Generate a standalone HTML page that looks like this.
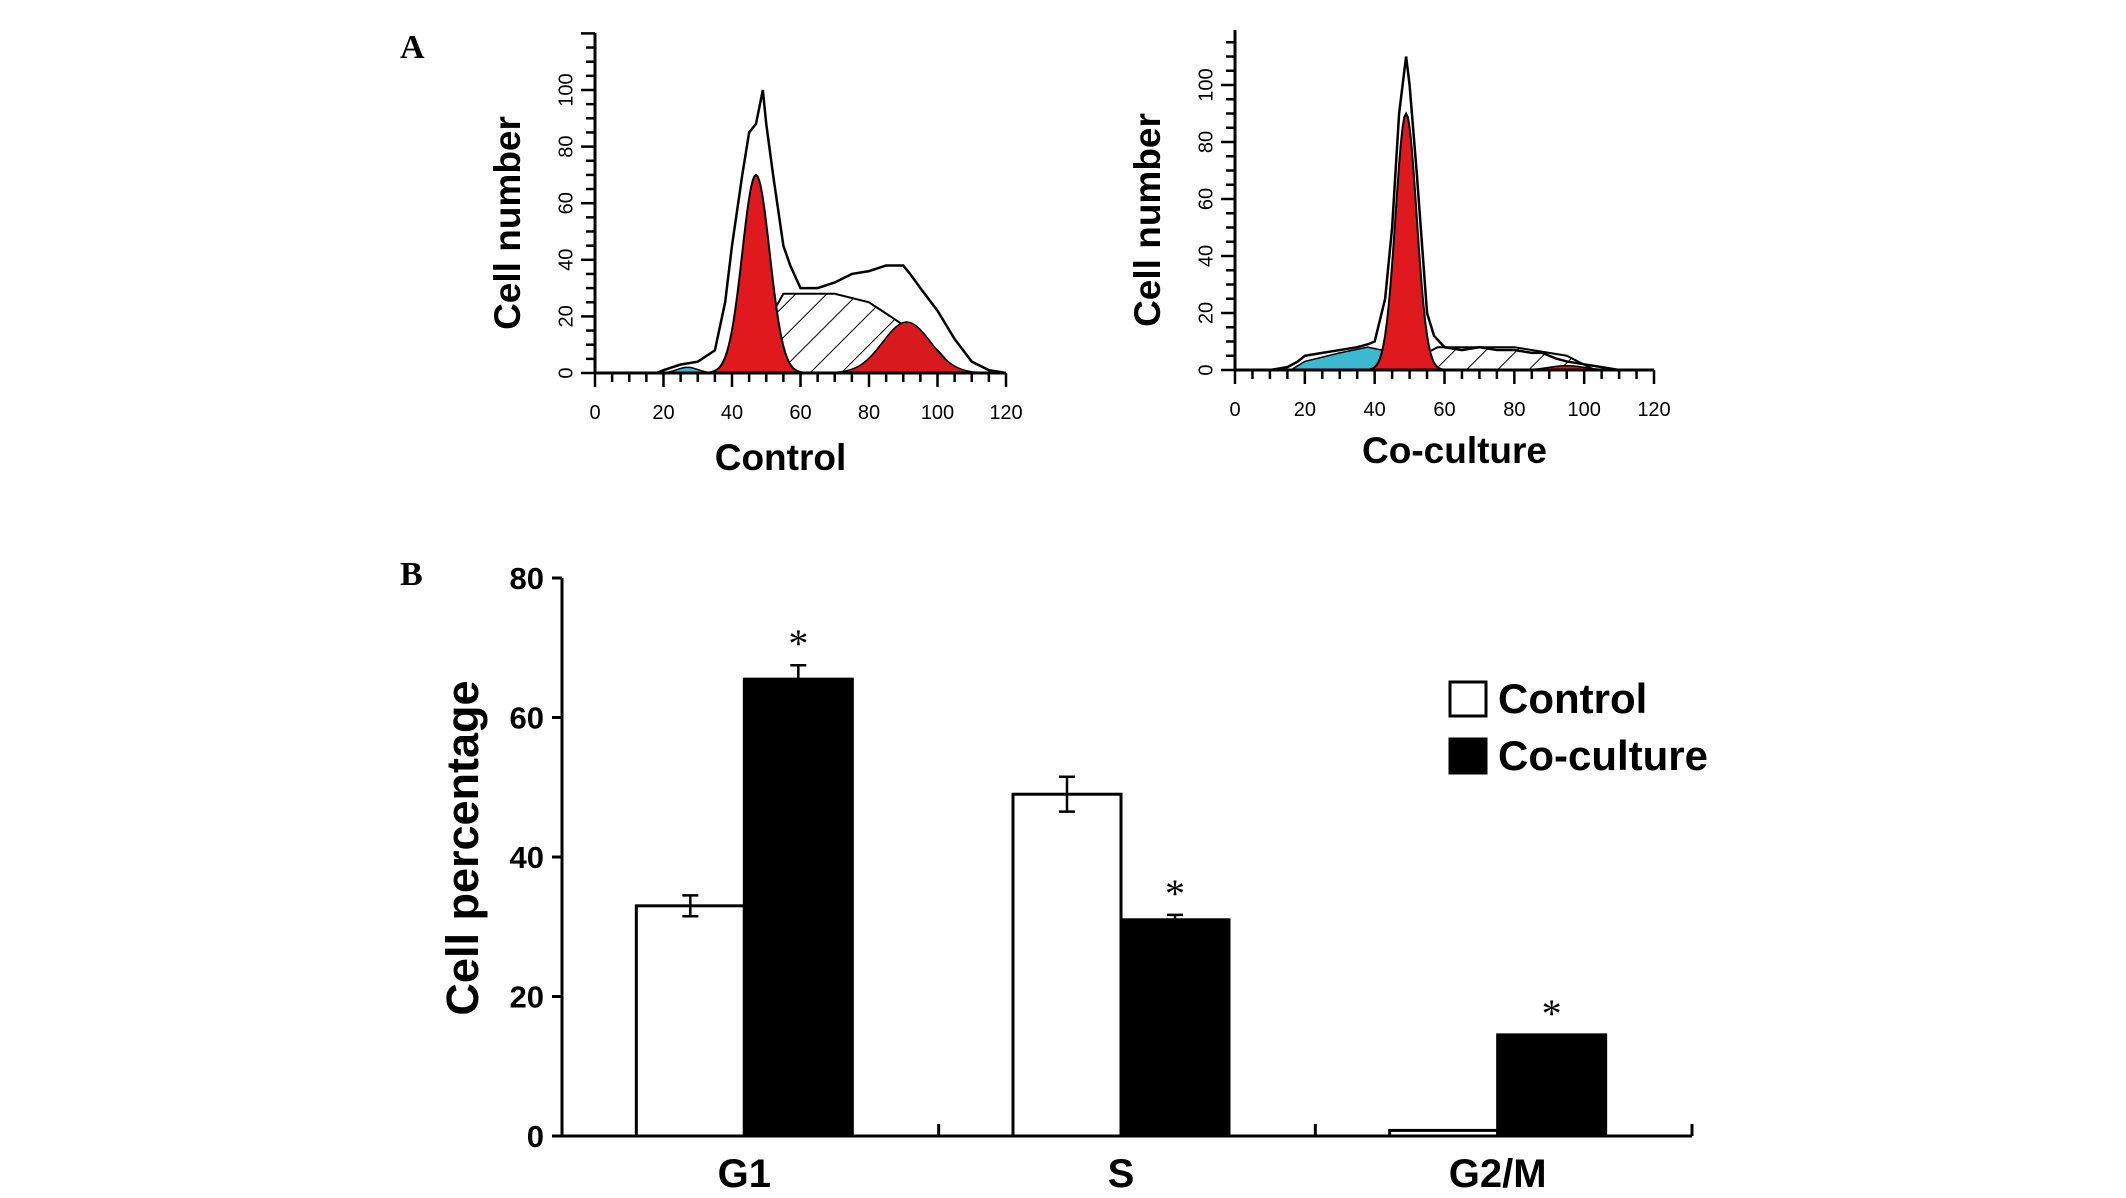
<!DOCTYPE html>
<html><head><meta charset="utf-8">
<style>
html,body{margin:0;padding:0;background:#fff;}
svg{display:block;}
text{font-family:"Liberation Sans",sans-serif;}
</style></head>
<body>
<svg id="fig" width="2126" height="1198" viewBox="0 0 2126 1198" xmlns="http://www.w3.org/2000/svg">
<defs>
<pattern id="hatch" patternUnits="userSpaceOnUse" width="22" height="22" patternTransform="rotate(45)">
<rect width="22" height="22" fill="#fff"/><line x1="0" y1="0" x2="0" y2="22" stroke="#000" stroke-width="2"/>
</pattern>
</defs>
<text x="400" y="58" font-family="Liberation Serif" font-weight="bold" font-size="34" style="font-family:'Liberation Serif',serif">A</text>
<text x="400" y="585" font-family="Liberation Serif" font-weight="bold" font-size="34" style="font-family:'Liberation Serif',serif">B</text>
<g id="histA"></g>
<g id="barB"></g>
</svg>
<script>
// ---------- Panel A data ----------
const histX = [0,10,15,18,20,25,30,35,38,40,43,45,47,49,50,52,55,57,60,65,70,75,80,85,88,90,92,95,100,105,110,115,120];
const controlEnvelope = [0,0,0,0,1,3,4,8,25,45,70,85,88,100,88,70,45,38,30,30,32,35,36,38,38,38,35,30,22,12,4,1,0];
const cocultureEnvelope = [0,0,1,3,5,6,7,8,9,10,25,50,90,110,100,70,20,12,8,7,8,7,7,6,6,5,4,3,2,1,0,0,0];
// fitted components: [mean, sd, height]
const controlG1 = [47,4,70];
const controlG2 = [91,7,18];
const controlApop = [27,3,2];
const controlS = [[42,0],[55,28],[70,28],[80,25],[90,17],[100,8],[106,0]];
const cocultureG1 = [49,3,90];
const cocultureG2 = [95,5,1.5];
const cocultureApop = [[16,0],[20,3],[30,6],[38,8],[42,7],[44,0]];
const cocultureS = [[46,0],[58,8],[80,8],[95,5],[103,0]];
const histYTicks = [0,20,40,60,80,100];
const histXTicks = [0,20,40,60,80,100,120];

// ---------- Panel B data ----------
const phases = ["G1","S","G2/M"];
const controlVals = [33,49,0.8];
const controlErr = [1.5,2.5,0];
const cocultureVals = [65.5,31,14.5];
const cocultureErr = [2,0.7,0];
const sig = [true,true,true];
const barYTicks = [0,20,40,60,80];

const NS="http://www.w3.org/2000/svg";
function mk(tag,attrs,parent){const e=document.createElementNS(NS,tag);for(const k in attrs)e.setAttribute(k,attrs[k]);parent.appendChild(e);return e;}

function gauss(p,x){return p[2]*Math.exp(-0.5*Math.pow((x-p[0])/p[1],2));}

function drawHist(g,cfg){
  const sx=v=>cfg.x0+(v/120)*(cfg.x1-cfg.x0);
  const sy=v=>cfg.base-(v/100)*(cfg.base-cfg.y100);
  const gp=p=>{let s=`M${sx(p[0]-4*p[1])},${sy(0)}`;for(let x=p[0]-4*p[1];x<=p[0]+4*p[1];x+=0.5)s+=` L${sx(x)},${sy(gauss(p,x))}`;return s+` L${sx(p[0]+4*p[1])},${sy(0)} Z`;};
  const pp=pts=>'M'+pts.map(p=>sx(p[0])+','+sy(p[1])).join(' L')+' Z';
  let e;
  e=mk('path',{d:pp(cfg.S),fill:'url(#hatch)',stroke:'#000','stroke-width':2},g);
  
  if(Array.isArray(cfg.apop[0])){e=mk('path',{d:pp(cfg.apop),fill:'#3cb8d0',stroke:'#000','stroke-width':1.5},g);}
  else{e=mk('path',{d:gp(cfg.apop),fill:'#3cb8d0',stroke:'#000','stroke-width':1.5},g);}
  
  e=mk('path',{d:gp(cfg.G1),fill:'#e0191e',stroke:'#000','stroke-width':2},g);
  
  e=mk('path',{d:gp(cfg.G2),fill:'#d81a1f',stroke:'#000','stroke-width':1.5},g);
  
  let d='';histX.forEach((x,i)=>{d+=(i?' L':'M')+sx(x)+','+sy(cfg.env[i]);});
  e=mk('path',{d:d,fill:'none',stroke:'#000','stroke-width':2.5},g);
  
  e=mk('line',{x1:cfg.x0,y1:cfg.base,x2:cfg.x0,y2:cfg.top,stroke:'#000','stroke-width':3},g);
  
  e=mk('line',{x1:cfg.x0,y1:cfg.base,x2:cfg.x1,y2:cfg.base,stroke:'#000','stroke-width':3},g);
  
  for(let v=0;sy(v)>=cfg.top;v+=5){mk('line',{x1:cfg.x0-(v%20===0?14:9),y1:sy(v),x2:cfg.x0,y2:sy(v),stroke:'#000','stroke-width':2.5},g);}
  for(let v=0;v<=120;v+=5){mk('line',{x1:sx(v),y1:cfg.base,x2:sx(v),y2:cfg.base+(v%20===0?14:9),stroke:'#000','stroke-width':2.5},g);}
  histYTicks.forEach(v=>{const t=mk('text',{x:cfg.x0-28,y:sy(v),'font-size':20,'text-anchor':'middle',transform:`rotate(-90 ${cfg.x0-28} ${sy(v)})`,'dominant-baseline':'middle'},g);t.textContent=v;
    });
  histXTicks.forEach(v=>{const t=mk('text',{x:sx(v),y:cfg.base+46,'font-size':20,'text-anchor':'middle'},g);t.textContent=v;
    });
  let t=mk('text',{x:cfg.ytx,y:cfg.base-150,'font-size':37,'font-weight':'bold','text-anchor':'middle',transform:`rotate(-90 ${cfg.ytx} ${cfg.base-150})`},g);
  t.textContent='Cell number';
  t=mk('text',{x:(cfg.x0+cfg.x1)/2+(cfg.titleDx||0),y:cfg.titleY,'font-size':37,'font-weight':'bold','text-anchor':'middle'},g);
  t.textContent=cfg.title;
}
const hA=document.getElementById('histA');
const g1=mk('g',{},hA);
drawHist(g1,{x0:595,x1:1006,base:373,y100:90,top:33,env:controlEnvelope,G1:controlG1,G2:controlG2,apop:controlApop,S:controlS,ytx:520,title:'Control',titleY:470,titleDx:-20});
const g2=mk('g',{},hA);
drawHist(g2,{x0:1235,x1:1654,base:370,y100:85,top:30,env:cocultureEnvelope,G1:cocultureG1,G2:cocultureG2,apop:cocultureApop,S:cocultureS,ytx:1160,title:'Co-culture',titleY:463,titleDx:10});

// ---------- Panel B ----------
const gB=document.getElementById('barB');

const X0=562,X1=1692,Y0=1136,Y80=578;
const y=v=>Y0-(v/80)*(Y0-Y80);
const groupW=(X1-X0)/3,barW=108;
let e;
e=mk('line',{x1:X0,y1:Y0,x2:X0,y2:Y80,stroke:'#000','stroke-width':3},gB);
e=mk('line',{x1:X0,y1:Y0,x2:X1,y2:Y0,stroke:'#000','stroke-width':3},gB);
barYTicks.forEach(v=>{mk('line',{x1:X0-10,y1:y(v),x2:X0,y2:y(v),stroke:'#000','stroke-width':3},gB);
  const t=mk('text',{x:X0-18,y:y(v)+11,'font-size':31,'font-weight':'bold','text-anchor':'end'},gB);t.textContent=v;
  });
phases.forEach((p,i)=>{
  const cx=X0+groupW*(i+0.5)-6;
  mk('line',{x1:X0+groupW*(i+1),y1:Y0,x2:X0+groupW*(i+1),y2:Y0-12,stroke:'#000','stroke-width':3},gB);
  let r=mk('rect',{x:cx-barW,y:y(controlVals[i]),width:barW,height:Y0-y(controlVals[i]),fill:'#fff',stroke:'#000','stroke-width':3},gB);
  
  r=mk('rect',{x:cx,y:y(cocultureVals[i]),width:barW,height:Y0-y(cocultureVals[i]),fill:'#000',stroke:'#000','stroke-width':3},gB);
  
  [[cx-barW/2,controlVals[i],controlErr[i]],[cx+barW/2,cocultureVals[i],cocultureErr[i]]].forEach(a=>{
    if(a[2]>0){const eb=mk('path',{d:`M${a[0]},${y(a[1]-a[2])} V${y(a[1]+a[2])} M${a[0]-8},${y(a[1]-a[2])} H${a[0]+8} M${a[0]-8},${y(a[1]+a[2])} H${a[0]+8}`,stroke:'#000','stroke-width':2.5,fill:'none'},gB);
      }
  });
  if(sig[i]){const s=mk('text',{x:cx+barW/2,y:y(cocultureVals[i]+cocultureErr[i])-8,'font-size':40,'text-anchor':'middle',style:"font-family:'Liberation Serif',serif"},gB);s.textContent='*';
    }
  const t=mk('text',{x:cx,y:1187,'font-size':40,'font-weight':'bold','text-anchor':'middle'},gB);t.textContent=p;
  
});
let t=mk('text',{x:478,y:848,'font-size':45,'font-weight':'bold','text-anchor':'middle',transform:'rotate(-90 478 848)'},gB);
t.textContent='Cell percentage';
const lg=mk('g',{},gB);
[['Control','#fff',682],['Co-culture','#000',739]].forEach(l=>{
  const r=mk('rect',{x:1450,y:l[2],width:36,height:34,fill:l[1],stroke:'#000','stroke-width':3},lg);
  
  const tx=mk('text',{x:1498,y:l[2]+31,'font-size':42,'font-weight':'bold'},lg);tx.textContent=l[0];
  
});
</script>
</body></html>
